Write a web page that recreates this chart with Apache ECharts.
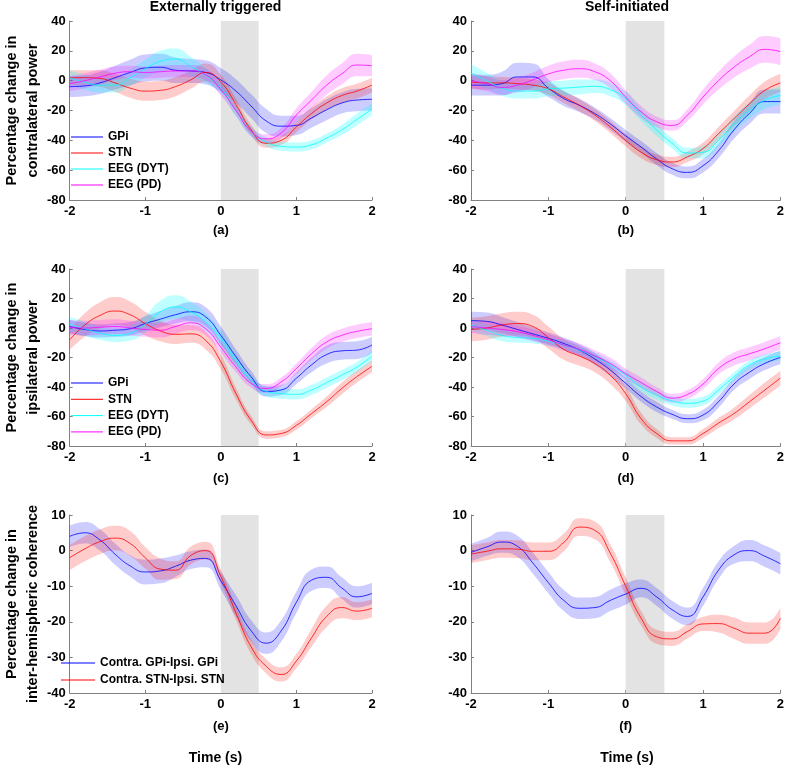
<!DOCTYPE html>
<html><head><meta charset="utf-8">
<script src="https://cdn.jsdelivr.net/npm/echarts@6/dist/echarts.min.js"></script>
<style>html,body{margin:0;padding:0;background:#fff}#c{width:787px;height:768px}</style>
</head><body><div id="c"></div>
<script>
// ---------- data ----------
const times = [-2,-1.8,-1.6,-1.4,-1.2,-1,-0.8,-0.6,-0.4,-0.2,0,0.2,0.4,0.6,0.8,1,1.2,1.4,1.6,1.8,2];
const stimWindow = [0, 0.5];
const xTicks = [-2, -1, 0, 1, 2];

// (a) externally triggered, contralateral power
const aGPi = [-4,-3.5,-1.5,2,5.5,8.5,9,7,6.5,5.5,0.5,-7,-17,-27,-30.5,-30,-25,-19.5,-15,-13,-12.5];
const aGPiHw = [7,7,7.5,8,8.5,9,9,8.5,8,8,8,8,8,8,7,6.5,6.5,7,7,7.5,7.5];
const aSTN = [2,2,1.5,-1.5,-5,-7,-6.5,-4,0.5,5.5,-1,-16,-33,-42,-40,-31,-22,-15,-10,-7,-3];
const aSTNHw = [5,5,5.5,6,6.5,6.5,6.5,6.5,6,6,5,4,3.5,3,3,3.5,4,4.5,5,5,5];
const aDYT = [2,-1,-3,-3,2,8,13,14.5,9.5,3.5,-5,-20,-34,-41,-44,-44.5,-43,-38.5,-33,-26,-19];
const aDYTHw = [5,5,5,5,5.5,6,7,7,6.5,5,4,4,3.5,3,3,3,3,3,3.5,4,4];
const aPD = [-2,0,2.5,5,6,5.5,6,6.5,6.5,4,-6,-20,-34,-39,-35,-23,-13,-3,4.5,10.5,10];
const aPDHw = [5,5,5,4.5,4,4,4,4,4,4,4,3.5,3,3,3.5,4.5,5.5,6.5,7,7.5,7];

// (b) self-initiated, contralateral power
const bGPi = [-3,-3,-2,2.5,2.5,-5,-12,-16.5,-22,-29,-37,-44.5,-52.5,-59,-61.5,-57,-47,-33,-22,-14,-14];
const bGPiHw = [7,7,8,9.5,9,6,5,4.5,4,4,4,4,4,4,4,4.5,5,6,7,8,8];
const bSTN = [-1,-1.5,-1.5,-2,-3,-5.5,-11,-16.5,-23,-31,-40,-48,-53,-54.5,-51,-45.5,-35.5,-25.5,-15.5,-6.5,-1.5];
const bSTNHw = [4.5,4.5,4,4,4,4,4,4,4,4,4,4,3.5,3.5,3.5,4,4.5,5,5.5,6,6];
const bDYT = [5,0,-5,-7,-7,-5.5,-5,-4.3,-3.8,-6,-12,-23,-33,-42,-48.5,-48,-40,-29,-20,-13,-10];
const bDYTHw = [6,5.5,5,5,5,5,5,5,4.5,4.5,4.5,4,4,3.5,3.5,4,4.5,5,5.5,6,6];
const bPD = [0,-2,-4.5,-3,0.5,4.5,7,8,6,0,-11,-21,-27.5,-30,-23,-11,0,9,16,21,19.5];
const bPDHw = [5,5,5,5,5,5.5,6,6,5.5,5,4.5,4,3.5,3.5,4,5,6,7,8,9,9];

// (c) externally triggered, ipsilateral power
const cGPi = [1,-1,-2,-1.5,-0.5,3,6,9,11,7.5,-5,-19.5,-33,-43,-42,-34,-25,-18,-15.5,-15,-11.5];
const cGPiHw = [4.5,4.5,4.5,4.5,4.5,5,5.5,6,6.5,6.5,6,5,4,3.5,3.5,4,5,6,6,6,5.5];
const cSTN = [-8,2,8.5,11.5,9,3,-2,-4.3,-4,-8.5,-23,-44.5,-62.5,-72.5,-71.5,-66,-58,-50,-41,-33,-26];
const cSTNHw = [7,8,9,9.5,9,8,7,6.5,6,6,5,4,3,2.5,2.5,3,3,3.5,4,4,4];
const cDYT = [2.5,-0.5,-3.5,-5,-3.5,2.5,11,14.2,11,4,-7,-22,-35.5,-43,-44.5,-45,-42,-37,-32,-26.5,-19];
const cDYTHw = [5,5,4.5,4.5,5,6,7.5,8,7,6,5,4,3.5,3.5,3.5,3.5,3.5,3.5,3.5,3.5,3.5];
const cPD = [0.5,0,0.5,1,0,-1,-1.5,1,3.5,-0.5,-13,-26.5,-37.5,-41,-36.5,-27.5,-17.5,-9.5,-5,-2.3,-0.5];
const cPDHw = [5,5,5,5,5,5,5,5,5,4.5,4,3.5,3,3,3,3.5,4,4.5,4.5,4.5,4.5];

// (d) self-initiated, ipsilateral power
const dGPi = [5,4.5,2,-1,-4,-7,-10.5,-15,-21,-28.5,-37.5,-46.5,-53.5,-58.5,-61.5,-59,-50,-38,-30,-24,-20];
const dGPiHw = [6,6,5.5,5,4.5,4,4,4,4,4,3.5,3.5,3.5,3,3,3.5,4,4,4.5,4.5,4.5];
const dSTN = [-1,0,2,3,1,-6.5,-14.5,-19,-24,-32,-44.5,-61.5,-71.5,-76.5,-76.5,-71.5,-64.5,-58,-50,-42,-34];
const dSTNHw = [8,8,8,8,8,7.5,7,6.5,6,6,5,4,3,2.5,2.5,3,3.5,4,4.5,5,5];
const dDYT = [2,-1.5,-5,-6.5,-7,-9,-11.5,-15,-19.5,-25,-32,-40,-45.5,-49.5,-51,-49.5,-42,-33,-25,-21,-19];
const dDYTHw = [4,4,4,3.5,3.5,3,3,3,3,3,3,3,3,3,3,3,3,3,3,3,3];
const dPD = [1,0,-1,-2.5,-5,-8,-11.5,-14.5,-19,-24,-31,-37,-43,-47.5,-45,-38,-27.5,-21,-17.5,-14,-10];
const dPDHw = [4.5,4.5,4.5,4,4,4,4,4,4,4,3.5,3.5,3,3,3,3.5,4,4.5,4.5,4.5,4.5];

// (e) externally triggered, inter-hemispheric coherence
const eGPi = [4,5,3,-1,-4.3,-6,-5.7,-4.4,-2.7,-2.2,-8.5,-15.5,-22.5,-26,-22.5,-14.5,-8.3,-7.5,-10.5,-13,-12];
const eGPiHw = [3,3,3,3,3,3.5,3.5,3,2.5,2.5,2.5,3,3,3,3,3,3,3,3,3,3];
const eSTN = [-2,0.5,2.5,3.5,2,-2,-5.2,-5.5,-1.4,0,-7.3,-17.5,-27,-32.5,-34.8,-31,-24.5,-18.5,-16,-17,-16.2];
const eSTNHw = [3.5,3.5,3.5,3.5,3.5,3,3,2.5,2.5,2.5,2,2,2,2,2,2,2.5,3,3,2.5,2.5];

// (f) self-initiated, inter-hemispheric coherence
const fGPi = [-0.5,1,2.4,1.2,-3.5,-9,-14,-16.2,-16,-14,-12.2,-10.6,-13,-16.6,-18.5,-13,-5.5,-1.2,0,-1.6,-3.7];
const fGPiHw = [2.5,2.5,3,3,3,3,3,3,3,3,3,2.5,2.5,2.5,2.5,2.5,2.5,2.5,3,3,3];
const fSTN = [-1,-0.2,0.5,0.4,-0.2,-0.2,2.3,6.6,5.7,-0.7,-10,-19,-24.2,-24.8,-22.7,-20.6,-20.5,-21.8,-23.2,-23.2,-19];
const fSTNHw = [2.5,2.5,2.5,2.5,2.5,2.5,2.5,2.5,2.5,2.5,2.5,2,2,2,2,2,2.5,3,3,3,3];

const powerNames = ['GPi', 'STN', 'EEG (DYT)', 'EEG (PD)'];
const cohNames = ['Contra. GPi-Ipsi. GPi', 'Contra. STN-Ipsi. STN'];
const panelLabels = ['(a)', '(b)', '(c)', '(d)', '(e)', '(f)'];
const columnTitles = ['Externally triggered', 'Self-initiated'];
const yNames = ['Percentage change in\ncontralateral power', 'Percentage change in\nipsilateral power', 'Percentage change in\ninter-hemispheric coherence'];

// ---------- layout / style ----------
const FONT = 'Liberation Sans, Arial, Helvetica, sans-serif';
const colors = ['#0000ff', '#ff0000', '#00ffff', '#ff00ff'];
const bandColors = ['rgba(0,0,255,0.2)', 'rgba(255,0,0,0.2)', 'rgba(0,255,255,0.25)', 'rgba(255,0,255,0.2)'];
const grids = [
  {left: 59, top: 21, width: 313, height: 179},
  {left: 471, top: 21, width: 312, height: 179},
  {left: 59, top: 269, width: 313, height: 177},
  {left: 471, top: 269, width: 312, height: 177},
  {left: 59, top: 515, width: 313, height: 178},
  {left: 471, top: 515, width: 312, height: 178}
];
const nameGaps = [24, 24, 26, 26, 27, 27];

const panels = [
  {names: powerNames, means: [aGPi, aSTN, aDYT, aPD], hws: [aGPiHw, aSTNHw, aDYTHw, aPDHw], y: [-80, 40, 20]},
  {names: powerNames, means: [bGPi, bSTN, bDYT, bPD], hws: [bGPiHw, bSTNHw, bDYTHw, bPDHw], y: [-80, 40, 20]},
  {names: powerNames, means: [cGPi, cSTN, cDYT, cPD], hws: [cGPiHw, cSTNHw, cDYTHw, cPDHw], y: [-80, 40, 20]},
  {names: powerNames, means: [dGPi, dSTN, dDYT, dPD], hws: [dGPiHw, dSTNHw, dDYTHw, dPDHw], y: [-80, 40, 20]},
  {names: cohNames, means: [eGPi, eSTN], hws: [eGPiHw, eSTNHw], y: [-40, 10, 10]},
  {names: cohNames, means: [fGPi, fSTN], hws: [fGPiHw, fSTNHw], y: [-40, 10, 10]}
];

const axisColor = '#808080';
const xAxes = [], yAxes = [], series = [];
panels.forEach((p, k) => {
  xAxes.push({
    type: 'value', gridIndex: k, min: xTicks[0], max: xTicks[xTicks.length - 1], interval: 1,
    axisLine: {show: true, onZero: false, lineStyle: {color: axisColor, width: 1}},
    axisTick: {show: true, inside: true, length: 3, lineStyle: {color: axisColor}},
    splitLine: {show: false},
    axisLabel: {color: '#000', fontWeight: 'bold', fontSize: 13, fontFamily: FONT, margin: 5},
    name: panelLabels[k], nameLocation: 'middle', nameGap: nameGaps[k],
    nameTextStyle: {color: '#000', fontWeight: 'bold', fontSize: 13, fontFamily: FONT}
  });
  const y = {
    type: 'value', gridIndex: k, min: p.y[0], max: p.y[1], interval: p.y[2],
    axisLine: {show: true, onZero: false, lineStyle: {color: axisColor, width: 1}},
    axisTick: {show: true, inside: true, length: 3, lineStyle: {color: axisColor}},
    splitLine: {show: false},
    axisLabel: {color: '#000', fontWeight: 'bold', fontSize: 13, fontFamily: FONT, margin: 4}
  };
  if (k % 2 === 0) {
    Object.assign(y, {
      name: yNames[k / 2], nameLocation: 'middle', nameGap: 19, nameRotate: 90,
      nameTextStyle: {color: '#000', fontWeight: 'bold', fontSize: 14.5, fontFamily: FONT, lineHeight: 21}
    });
  }
  yAxes.push(y);

  // stimulus window shading
  series.push({
    type: 'line', xAxisIndex: k, yAxisIndex: k, data: [], silent: true, z: 1,
    markArea: {silent: true, z: 1, itemStyle: {color: '#e3e3e3'},
      data: [[{xAxis: stimWindow[0]}, {xAxis: stimWindow[1]}]]}
  });

  p.names.forEach((nm, j) => {
    const m = p.means[j], hw = p.hws[j];
    const stackId = 'band' + k + '_' + j;
    // data stored as [value, time] so that the stacked dimension is the y value
    series.push({
      type: 'line', name: 'lo' + stackId, xAxisIndex: k, yAxisIndex: k, stack: stackId, stackStrategy: 'all',
      encode: {x: 1, y: 0},
      smooth: 0.5, symbol: 'none', silent: true, lineStyle: {opacity: 0},
      data: times.map((t, i) => [m[i] - hw[i], t])
    });
    series.push({
      type: 'line', name: 'hi' + stackId, xAxisIndex: k, yAxisIndex: k, stack: stackId, stackStrategy: 'all',
      encode: {x: 1, y: 0},
      smooth: 0.5, symbol: 'none', silent: true, lineStyle: {opacity: 0},
      areaStyle: {color: bandColors[j], opacity: 1},
      data: times.map((t, i) => [2 * hw[i], t])
    });
    series.push({
      type: 'line', name: nm, xAxisIndex: k, yAxisIndex: k, color: colors[j],
      smooth: 0.5, symbol: 'none', silent: true, lineStyle: {color: colors[j], width: 0.8},
      itemStyle: {color: colors[j]},
      data: times.map((t, i) => [t, m[i]])
    });
  });
});

const legendBase = {
  orient: 'vertical', icon: 'rect', itemWidth: 32, itemHeight: 1,
  selectedMode: false,
  textStyle: {color: '#000', fontWeight: 'bold', fontSize: 12, fontFamily: FONT}
};

const option = {
  animation: false,
  backgroundColor: '#fff',
  title: [
    {text: columnTitles[0], left: 215.5, top: 0, textAlign: 'center', padding: 0,
     textStyle: {fontSize: 14, fontWeight: 'bold', color: '#000', fontFamily: FONT}},
    {text: columnTitles[1], left: 627, top: 0, textAlign: 'center', padding: 0,
     textStyle: {fontSize: 14, fontWeight: 'bold', color: '#000', fontFamily: FONT}},
    {text: 'Time (s)', left: 215.5, top: 751, textAlign: 'center', padding: 0,
     textStyle: {fontSize: 14, fontWeight: 'bold', color: '#000', fontFamily: FONT}},
    {text: 'Time (s)', left: 627, top: 751, textAlign: 'center', padding: 0,
     textStyle: {fontSize: 14, fontWeight: 'bold', color: '#000', fontFamily: FONT}}
  ],
  legend: [
    Object.assign({}, legendBase, {data: powerNames, left: 71, top: 131, itemGap: 4, padding: 0}),
    Object.assign({}, legendBase, {data: powerNames, left: 71, top: 377, itemGap: 4.3, padding: 0}),
    Object.assign({}, legendBase, {data: cohNames, left: 61, top: 657, itemGap: 5, itemWidth: 34, padding: 0})
  ],
  grid: grids,
  xAxis: xAxes,
  yAxis: yAxes,
  series: series
};

const chart = echarts.init(document.getElementById('c'), null, {renderer: 'canvas'});
chart.setOption(option);
</script>
</body></html>
